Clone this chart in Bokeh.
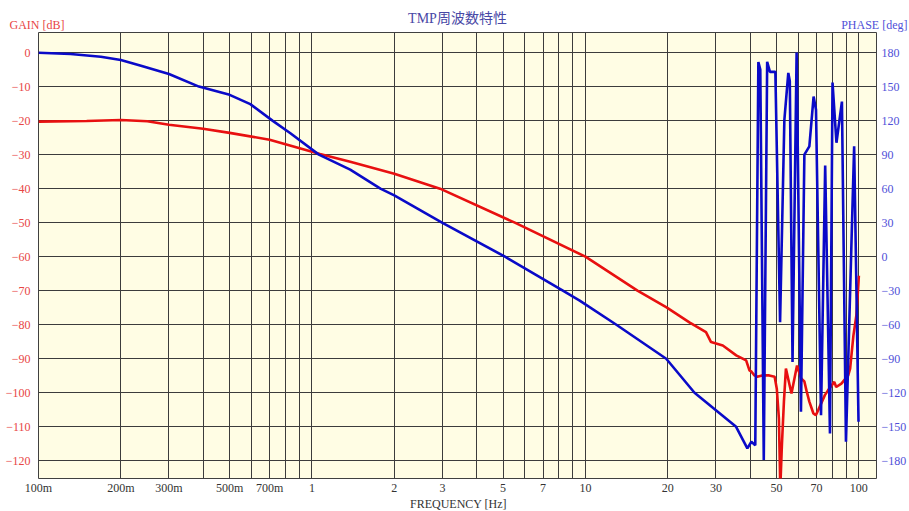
from bokeh.plotting import figure
from bokeh.models import (Range1d, LinearAxis, FixedTicker, CustomJSTickFormatter,
                          ColumnDataSource, Label, Title)
from bokeh.embed import file_html
from bokeh.resources import INLINE

# ---------------- data ----------------
gain_freq = [0.1, 0.15, 0.2, 0.25, 0.3, 0.4, 0.5, 0.7, 1.07, 1.38, 2.0, 2.94, 5.52, 10.0,
             15.5, 19.8, 24.0, 27.6, 28.8, 31.8, 35.6, 38.7, 39.8, 40.5, 41.5, 42.5, 44.3,
             47.0, 49.2, 50.1, 51.0, 51.6, 52.3, 53.2, 54.1, 56.7, 59.4, 61.5, 63.2, 64.3,
             65.9, 68.2, 69.6, 71.0, 75.1, 77.1, 81.3, 82.6, 86.3, 91.4, 92.9, 95.5, 97.9,
             99.5, 100.0]
gain_db = [-20.3, -20.1, -19.8, -20.2, -21.2, -22.4, -23.6, -25.6, -29.8, -32.1, -35.6,
           -40.0, -50.0, -60.0, -70.0, -74.9, -79.3, -82.2, -85.1, -86.1, -89.0, -90.5,
           -93.4, -93.8, -94.9, -95.3, -94.9, -94.9, -95.3, -98.8, -107.6, -128.0, -115.4,
           -102.6, -92.9, -100.2, -92.0, -95.8, -96.7, -99.3, -102.6, -106.1, -106.6,
           -105.1, -100.7, -99.3, -96.8, -98.3, -97.3, -94.9, -92.9, -83.2, -77.3, -68.5,
           -65.6]

phase_freq = [0.1, 0.131, 0.169, 0.2, 0.237, 0.3, 0.386, 0.5, 0.595, 0.717, 0.834, 1.06,
              1.38, 1.78, 2.0, 2.99, 5.08, 8.27, 9.53, 12.98, 19.75, 25.06, 35.57, 39.1,
              40.45, 41.8, 42.9, 43.6, 44.9, 46.2, 47.3, 49.5, 51.5, 53.4, 55.2, 55.9, 57.2,
              59.2, 61.4, 63.2, 65.9, 68.3, 69.7, 72.7, 75.3, 78.4, 80.1, 82.8, 86.7, 89.7,
              96.1, 99.7]
phase_deg = [179.8, 178.7, 176.3, 173.4, 168.4, 161.1, 150.0, 142.7, 134.5, 120.0, 108.9,
             90.0, 76.8, 60.0, 54.0, 30.0, 0.0, -30.0, -38.8, -60.0, -90.0, -120.0, -150.0,
             -169.0, -163.2, -166.2, 171.7, 165.0, -179.3, 171.9, 163.0, 163.0, -57.8, 120.7,
             162.0, 155.0, -92.9, 180.0, -136.8, 90.0, 97.3, 141.2, 129.5, -139.8, 80.3,
             -155.8, 153.5, 100.5, 136.8, -163.1, 97.3, -145.6]

x_tick_values = [0.1, 0.2, 0.3, 0.4, 0.5, 0.6, 0.7, 0.8, 0.9,
                 1, 2, 3, 4, 5, 6, 7, 8, 9,
                 10, 20, 30, 40, 50, 60, 70, 80, 90, 100]
x_tick_labels = ["100m", "200m", "300m", "", "500m", "", "700m", "", "",
                 "1", "2", "3", "", "5", "", "7", "", "",
                 "10", "20", "30", "", "50", "", "70", "", "", "100"]
gain_ticks = [0, -10, -20, -30, -40, -50, -60, -70, -80, -90, -100, -110, -120]
phase_ticks = [180, 150, 120, 90, 60, 30, 0, -30, -60, -90, -120, -150, -180]

title_text = "TMP周波数特性"
gain_label = "GAIN [dB]"
phase_label = "PHASE [deg]"
freq_label = "FREQUENCY [Hz]"

# ---------------- styling / layout ----------------
W, H = 909, 511
X_MIN, X_MAX = 0.1, 116.0
G_MIN, G_MAX = -125.2, 5.9
P_MIN, P_MAX = 3 * G_MIN + 180, 3 * G_MAX + 180

SERIF = "'Liberation Serif', 'Noto Sans CJK JP'"
RED = "#e81010"
BLUE = "#0a0ac8"
RED_TXT = "#e84545"
BLUE_TXT = "#4f4fd8"

p = figure(width=W, height=H, x_axis_type="log",
           x_range=Range1d(X_MIN, X_MAX), y_range=Range1d(G_MIN, G_MAX),
           output_backend="svg", toolbar_location=None, title=None,
           min_border_left=38, min_border_right=31, min_border_top=32,
           min_border_bottom=31)
p.extra_y_ranges = {"phase": Range1d(P_MIN, P_MAX)}

p.background_fill_color = "#fffde4"
p.border_fill_color = "white"
p.outline_line_color = "#404040"
p.outline_line_width = 1

# x axis
xa = p.xaxis[0]
xa.ticker = FixedTicker(ticks=x_tick_values, minor_ticks=[])
xa.formatter = CustomJSTickFormatter(
    args=dict(vals=x_tick_values, labs=x_tick_labels),
    code="""
    for (let i = 0; i < vals.length; i++) {
        if (Math.abs(vals[i] - tick) < 1e-9 * Math.max(1, Math.abs(tick))) return labs[i];
    }
    return "";
    """)
xa.major_label_text_font = SERIF
xa.major_label_text_font_size = "12px"
xa.major_label_text_color = "#333333"
xa.major_label_standoff = 2
xa.major_tick_in = 0
xa.major_tick_out = 0
xa.minor_tick_in = 0
xa.minor_tick_out = 0
xa.axis_line_color = None

# left (gain) axis
ya = p.yaxis[0]
ya.ticker = FixedTicker(ticks=gain_ticks, minor_ticks=[])
ya.major_label_text_font = SERIF
ya.major_label_text_font_size = "12px"
ya.major_label_text_color = RED_TXT
ya.major_label_standoff = 8
ya.major_tick_in = 0
ya.major_tick_out = 0
ya.minor_tick_in = 0
ya.minor_tick_out = 0
ya.axis_line_color = None

# right (phase) axis
ra = LinearAxis(y_range_name="phase", ticker=FixedTicker(ticks=phase_ticks, minor_ticks=[]))
ra.major_label_text_font = SERIF
ra.major_label_text_font_size = "12px"
ra.major_label_text_color = BLUE_TXT
ra.major_label_standoff = 5
ra.major_tick_in = 0
ra.major_tick_out = 0
ra.minor_tick_in = 0
ra.minor_tick_out = 0
ra.axis_line_color = None
p.add_layout(ra, "right")

# grids
p.xgrid.grid_line_color = "#3c3c3c"
p.xgrid.grid_line_width = 1
p.ygrid.grid_line_color = "#3c3c3c"
p.ygrid.grid_line_width = 1

# curves
gsrc = ColumnDataSource(dict(f=gain_freq, g=gain_db))
psrc = ColumnDataSource(dict(f=phase_freq, ph=phase_deg))
p.line("f", "g", source=gsrc, line_color=RED, line_width=2.6)
p.line("f", "ph", source=psrc, y_range_name="phase", line_color=BLUE, line_width=2.6)

# texts outside the frame, placed in side panels (panels nearest the frame first)
p.add_layout(Label(x=-29, y=8, x_units="screen", y_units="screen", text=gain_label,
                   text_font=SERIF, text_font_size="12px", text_color=RED_TXT,
                   text_align="left", text_baseline="middle"), "above")
p.add_layout(Title(text=title_text, text_font=SERIF, text_font_size="14px",
                   text_font_style="normal", text_color="#4848a6", align="center",
                   vertical_align="middle", standoff=-18), "above")
p.add_layout(Label(x=869, y=-6, x_units="screen", y_units="screen", text=phase_label,
                   text_font=SERIF, text_font_size="12px", text_color=BLUE_TXT,
                   text_align="right", text_baseline="middle"), "above")
p.add_layout(Label(x=420, y=8, x_units="screen", y_units="screen", text=freq_label,
                   text_font=SERIF, text_font_size="12px", text_color="#333333",
                   text_align="center", text_baseline="middle"), "below")

open("out.html", "w").write(file_html(p, INLINE))
